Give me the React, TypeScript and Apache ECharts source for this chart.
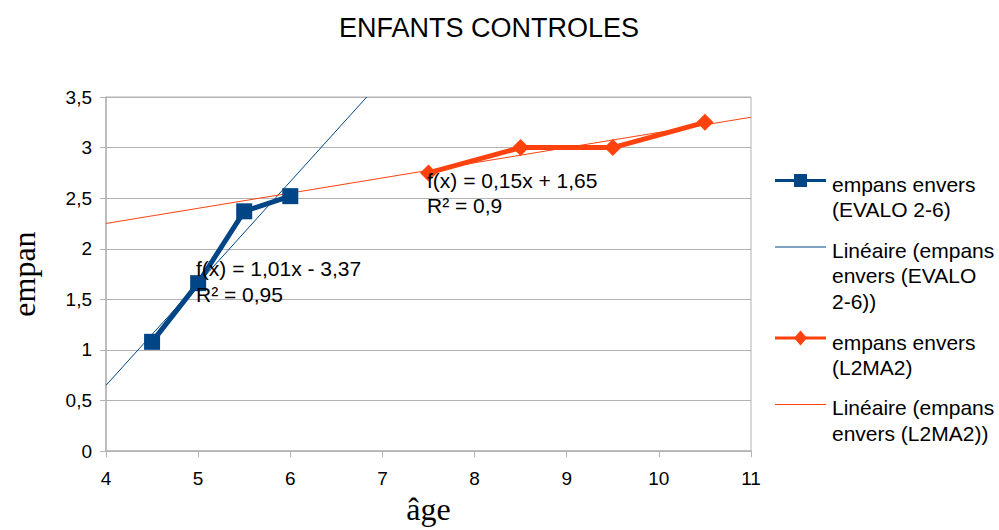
import React, { useEffect, useRef } from "react";
import * as echarts from "echarts";

const titleText = "ENFANTS CONTROLES";
const xAxisName = "âge";
const yAxisName = "empan";

const evaloData: [number, number][] = [
  [4.5, 1.08],
  [5, 1.66],
  [5.5, 2.37],
  [6, 2.52],
];
const evaloTrend: [number, number][] = [
  [4, 0.65],
  [6.83, 3.5],
];
const l2ma2Data: [number, number][] = [
  [7.5, 2.75],
  [8.5, 3.0],
  [9.5, 3.0],
  [10.5, 3.25],
];
const l2ma2Trend: [number, number][] = [
  [4, 2.25],
  [11, 3.3],
];

const seriesNames = [
  "empans envers\n(EVALO 2-6)",
  "Linéaire (empans\nenvers (EVALO\n2-6))",
  "empans envers\n(L2MA2)",
  "Linéaire (empans\nenvers (L2MA2))",
];
const evaloEquation = "f(x) = 1,01x - 3,37\nR² = 0,95";
const l2ma2Equation = "f(x) = 0,15x + 1,65\nR² = 0,9";

const BLUE = "#004586";
const ORANGE = "#ff420e";
const GRID = "#b3b3b3";
const SANS = "'Liberation Sans', Arial, sans-serif";
const SERIF = "'Liberation Serif', 'Times New Roman', serif";

export default function App() {
  const ref = useRef<HTMLDivElement>(null);
  useEffect(() => {
    if (!ref.current) return;
    const chart = echarts.init(ref.current, null, { renderer: "svg" });
    const legendX = 775;
    const legendW = 51;
    const textX = 832;
    const lh = 25.4;
    const iconYs = [180.5, 247, 338, 404.5];
    const textYs = [184.5, 250.5, 342.5, 408];
    const legendItems: any[] = [];
    const styles = [
      { color: BLUE, width: 3, marker: "rect" },
      { color: BLUE, width: 1, marker: null },
      { color: ORANGE, width: 3, marker: "diamond" },
      { color: ORANGE, width: 1, marker: null },
    ];
    styles.forEach((s, i) => {
      const y = iconYs[i];
      legendItems.push({
        type: "line",
        shape: { x1: legendX, y1: y, x2: legendX + legendW, y2: y },
        style: { stroke: s.color, lineWidth: s.width },
      });
      const cx = legendX + legendW / 2;
      if (s.marker === "rect") {
        legendItems.push({
          type: "rect",
          shape: { x: cx - 6.5, y: y - 6.5, width: 13, height: 13 },
          style: { fill: s.color },
        });
      } else if (s.marker === "diamond") {
        legendItems.push({
          type: "polygon",
          shape: {
            points: [
              [cx, y - 7.5],
              [cx + 6.5, y],
              [cx, y + 7.5],
              [cx - 6.5, y],
            ],
          },
          style: { fill: s.color },
        });
      }
      legendItems.push({
        type: "text",
        x: textX,
        y: textYs[i] - lh / 2,
        style: {
          text: seriesNames[i],
          font: `21px ${SANS}`,
          fill: "#000",
          lineHeight: lh,
          verticalAlign: "top",
          align: "left",
        },
      });
    });

    chart.setOption({
      animation: false,
      title: {
        text: titleText,
        left: 484,
        top: 9,
        textAlign: "center",
        textStyle: { fontFamily: SANS, fontSize: 27, fontWeight: "normal", color: "#000" },
      },
      grid: {
        left: 96,
        right: 248,
        top: 97,
        bottom: 70,
        show: true,
        borderColor: GRID,
        borderWidth: 1,
        containLabel: false,
      },
      xAxis: {
        type: "value",
        min: 4,
        max: 11,
        interval: 1,
        name: xAxisName,
        nameLocation: "middle",
        nameGap: 40,
        nameTextStyle: { fontFamily: SERIF, fontSize: 32, color: "#000" },
        axisLine: { show: true, lineStyle: { color: GRID, width: 1.5 } },
        axisTick: { show: true, length: 6, lineStyle: { color: GRID } },
        splitLine: { show: false },
        axisLabel: { fontFamily: SANS, fontSize: 19, color: "#000", margin: 18 },
      },
      yAxis: {
        type: "value",
        min: 0,
        max: 3.5,
        interval: 0.5,
        name: yAxisName,
        nameLocation: "middle",
        nameGap: 66,
        nameRotate: 90,
        nameTextStyle: { fontFamily: SERIF, fontSize: 32, color: "#000" },
        axisLine: { show: true, lineStyle: { color: GRID, width: 1.5 } },
        axisTick: { show: true, length: 6, lineStyle: { color: GRID } },
        splitLine: { show: true, lineStyle: { color: GRID, width: 1 } },
        axisLabel: {
          fontFamily: SANS,
          fontSize: 19,
          color: "#000",
          margin: 14,
          formatter: (v: number) => String(v).replace(".", ","),
        },
      },
      graphic: [
        ...legendItems,
        {
          type: "text",
          x: 196,
          y: 269 - 12.7,
          z: 100,
          style: {
            text: evaloEquation,
            font: `21px ${SANS}`,
            fill: "#000",
            lineHeight: 25.4,
            verticalAlign: "top",
          },
        },
        {
          type: "text",
          x: 427,
          y: 180.5 - 12.7,
          z: 100,
          style: {
            text: l2ma2Equation,
            font: `21px ${SANS}`,
            fill: "#000",
            lineHeight: 25.4,
            verticalAlign: "top",
          },
        },
      ],
      series: [
        {
          name: seriesNames[0],
          type: "line",
          data: evaloData,
          symbol: "rect",
          symbolSize: 16,
          lineStyle: { color: BLUE, width: 5 },
          itemStyle: { color: BLUE },
        },
        {
          name: seriesNames[2],
          type: "line",
          data: l2ma2Data,
          symbol: "diamond",
          symbolSize: [17, 17],
          lineStyle: { color: ORANGE, width: 5 },
          itemStyle: { color: ORANGE },
        },
        {
          name: seriesNames[1],
          type: "line",
          data: evaloTrend,
          symbol: "none",
          lineStyle: { color: BLUE, width: 1 },
          z: 3,
        },
        {
          name: seriesNames[3],
          type: "line",
          data: l2ma2Trend,
          symbol: "none",
          lineStyle: { color: ORANGE, width: 1 },
          z: 3,
        },
      ],
    });
    return () => chart.dispose();
  }, []);
  return (
    <div
      ref={ref}
      style={{ position: "absolute", left: 0, top: 0, width: 999, height: 530 }}
    />
  );
}
